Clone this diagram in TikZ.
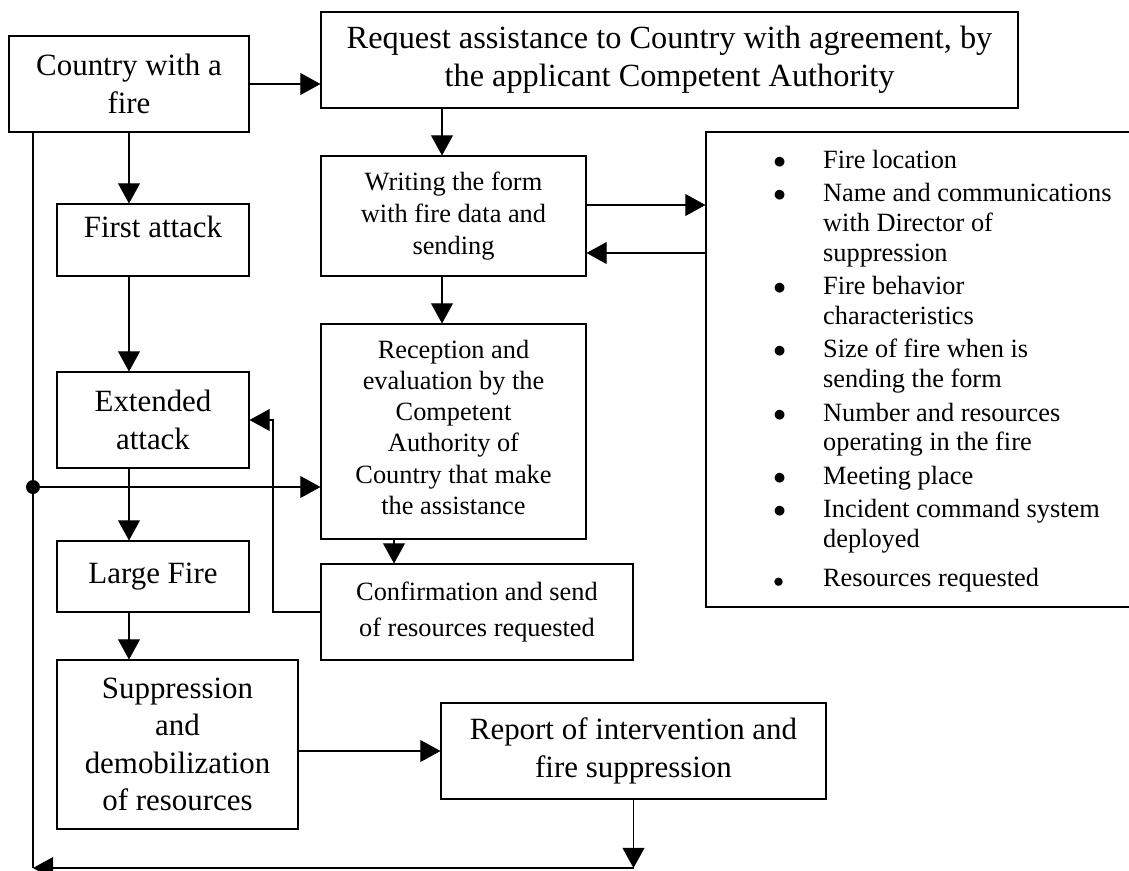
\documentclass[tikz,border=0pt]{standalone}
\usepackage{fontspec}
\setmainfont{Liberation Serif}
\usetikzlibrary{arrows.meta, positioning}

\begin{document}
\begin{tikzpicture}[x=0.02cm,y=-0.02cm,
  box/.style={draw,line width=0.6pt,align=center,inner sep=0pt},
  boxdim/.style 2 args={minimum width=#1*0.02cm,minimum height=#2*0.02cm},
  big/.style={font=\fontsize{17.6}{21.3}\selectfont},
  small/.style={font=\fontsize{15}{18}\selectfont},
  flow/.style={line width=0.6pt,-{Triangle[length=11.5pt,width=12.5pt]}},
  link/.style={line width=0.6pt},
  dot/.style={circle,fill,inner sep=0pt,minimum size=0.28cm}]
\useasboundingbox (0,0) rectangle (1129,870);
\node[box,big,boxdim={240}{96}] (country) at (129,84) {Country with a\\fire};
\node[box,font=\fontsize{18.4}{21.5}\selectfont,boxdim={697}{96}] (request) at (669.5,60) {Request assistance to Country with agreement, by\\the applicant Competent Authority};
\node[box,small,boxdim={265}{120}] (writing) at (453.5,216) {Writing the form\\with fire data and\\sending};
\node[box,small,font=\fontsize{15}{17.8}\selectfont,boxdim={265}{215},text depth=5pt] (reception) at (453.5,431.5) {Reception and\\evaluation by the\\Competent\\Authority of\\Country that make\\the assistance};
\node[box,small,font=\fontsize{15}{20}\selectfont,boxdim={312}{96}] (confirm) at (477,612) {Confirmation and send\\of resources requested};
\node[box,boxdim={434}{475}] (fireinfo) at (923,369.5) {};
\node[small,font=\fontsize{15}{17}\selectfont,anchor=base west,inner sep=0pt] (fireitems) at (773,168) {%
  \begin{tabular}[t]{@{}p{28.35pt}@{}l@{}}
  $\bullet$ & Fire location\\[2pt]
  $\bullet$ & Name and communications\\
            & with Director of\\
            & suppression\\[2pt]
  $\bullet$ & Fire behavior\\
            & characteristics\\[2pt]
  $\bullet$ & Size of fire when is\\
            & sending the form\\[2pt]
  $\bullet$ & Number and resources\\
            & operating in the fire\\[2pt]
  $\bullet$ & Meeting place\\[2pt]
  $\bullet$ & Incident command system\\
            & deployed\\[5pt]
  \raisebox{-0.5pt}{\large$\bullet$} & Resources requested
  \end{tabular}};
\node[box,big,boxdim={192}{72},text depth=14.8pt] (first) at (153,240) {First attack};
\node[box,big,boxdim={192}{96}] (extended) at (153,420) {Extended\\attack};
\node[box,big,boxdim={192}{71}] (large) at (153,576.5) {Large Fire};
\node[box,big,boxdim={241}{169}] (suppress) at (177.5,744.5) {Suppression\\and\\demobilization\\of resources};
\node[box,big,boxdim={385}{96}] (report) at (633.5,751) {Report of intervention and\\fire suppression};
\coordinate (colA) at (442,0);
\coordinate (colB) at (394,0);
\coordinate (rowA) at (0,205);
\coordinate (rowB) at (0,253);
\coordinate (back) at (273,500);
\coordinate (spinebot) at (33,868);
\node[dot] (junction) at (33,487) {};
\draw[flow] (country.east) -- (country.east -| request.west);
\draw[flow] (country.south) -- (first.north -| country.south);
\draw[flow] (first.south -| country.south) -- (extended.north -| country.south);
\draw[flow] (extended.south -| country.south) -- (large.north -| country.south);
\draw[flow] (large.south -| country.south) -- (suppress.north -| country.south);
\draw[flow] (report.west -| suppress.east) -- (report.west);
\draw[flow] (request.south -| colA) -- (writing.north -| colA);
\draw[flow] (writing.south -| colA) -- (reception.north -| colA);
\draw[flow] (reception.south -| colB) -- (confirm.north -| colB);
\draw[flow] (writing.east |- rowA) -- (fireinfo.west |- rowA);
\draw[flow] (fireinfo.west |- rowB) -- (writing.east |- rowB);
\draw[flow] (confirm.west) -| (back) |- (extended.east);
\draw[link] (country.south -| spinebot) -- (spinebot);
\draw[flow] (report.south) -- (report.south |- spinebot);
\draw[flow] (report.south |- spinebot) -- (spinebot);
\draw[flow] (junction) -- (junction -| reception.west);
\end{tikzpicture}
\end{document}
